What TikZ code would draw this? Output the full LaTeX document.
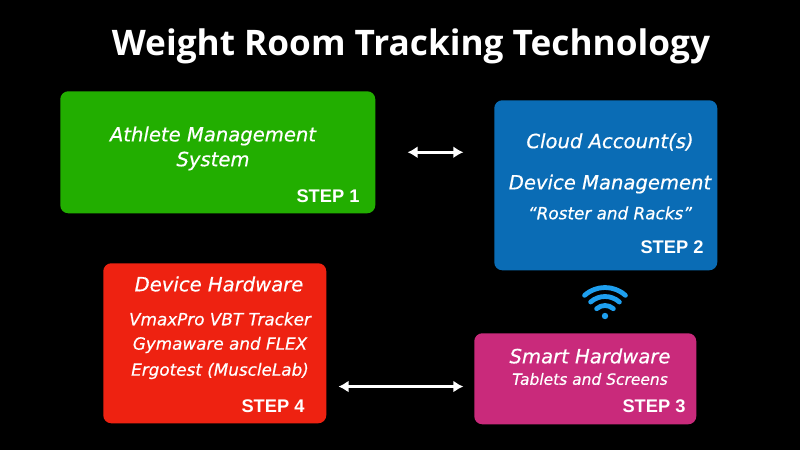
\documentclass[tikz,border=0pt]{standalone}
\usepackage{xcolor}
\usepackage{fontspec}
\setmainfont[ItalicFeatures={FakeBold=0.5}]{DejaVu Sans}
\newfontfamily\titlefont{Open Sans}
\newfontfamily\stepfont{Liberation Sans}
\usetikzlibrary{arrows.meta}
\definecolor{stepgreen}{HTML}{22AE00}
\definecolor{stepblue}{HTML}{0A6CB5}
\definecolor{stepred}{HTML}{EE2211}
\definecolor{stepmagenta}{HTML}{C92A7B}
\definecolor{wifiblue}{HTML}{1E9FEF}
\tikzset{
    stepbox/.style={rounded corners=6pt, inner sep=0pt, anchor=north west},
    headtext/.style={text=white, inner sep=0pt, font=\itshape\fontsize{14.7}{14.7}\selectfont},
    subtext/.style={text=white, inner sep=0pt, font=\itshape\fontsize{12.6}{12.6}\selectfont},
    steptext/.style={text=white, inner sep=0pt, font=\stepfont\bfseries\fontsize{13.7}{13.7}\selectfont},
    biarrow/.style={draw=white, line width=2pt, {Latex[length=7.5pt,width=9pt]}-{Latex[length=7.5pt,width=9pt]}},
    wifiarc/.style={draw=wifiblue, line width=3.6pt, line cap=round}
}
\begin{document}
\begin{tikzpicture}[x=0.75pt, y=-0.75pt]
    \useasboundingbox[fill=black] (0,0) rectangle (800,450);
    \node[text=white, inner sep=0pt, font=\titlefont\bfseries\fontsize{26.4}{26.4}\selectfont] (title) at (411,46) {Weight Room Tracking Technology};

    % boxes
    \node[stepbox, fill=stepgreen, minimum width=236.25pt, minimum height=91.5pt] (ams) at (60,91) {};
    \node[stepbox, fill=stepblue, minimum width=167.25pt, minimum height=127.5pt] (cloud) at (494,100) {};
    \node[stepbox, fill=stepred, minimum width=167.25pt, minimum height=120pt] (device) at (103,263) {};
    \node[stepbox, fill=stepmagenta, minimum width=166.5pt, minimum height=68.25pt] (smart) at (474,333) {};

    % box texts
    \node[headtext] (amsone) at (213,136) {Athlete Management};
    \node[headtext] (amstwo) at (213,161) {System};
    \node[steptext] (stepone) at (328,196) {STEP 1};

    \node[headtext] (cloudone) at (610,142) {Cloud Account(s)};
    \node[headtext] (cloudtwo) at (610,184) {Device Management};
    \node[subtext] (cloudthree) at (610,213) {“Roster and Racks”};
    \node[steptext] (steptwo) at (672,247) {STEP 2};

    \node[headtext] (deviceone) at (219,284) {Device Hardware};
    \node[subtext] (devicetwo) at (220,319) {VmaxPro VBT Tracker};
    \node[subtext] (devicethree) at (220,345) {Gymaware and FLEX};
    \node[subtext] (devicefour) at (220,371) {Ergotest (MuscleLab)};
    \node[steptext] (stepfour) at (273,406) {STEP 4};

    \node[headtext] (smartone) at (590,356) {Smart Hardware};
    \node[subtext, font=\itshape\fontsize{11.6}{11.6}\selectfont] (smarttwo) at (590,379) {Tablets and Screens};
    \node[steptext] (stepthree) at (654,406) {STEP 3};

    % arrows
    \draw[biarrow, shorten <=24pt, shorten >=23pt] (ams.east) -- (ams.east -| cloud.west);
    \draw[biarrow, shorten <=9pt, shorten >=8pt] ([yshift=27.75pt]device.south east) -- ([yshift=28.5pt]smart.south west);

    % wifi
    \coordinate (wifi) at (605,318);
    \fill[wifiblue] (wifi) ++(0,-2) circle (2.4pt);
    \draw[wifiarc] (wifi) ++(228:12.5) arc[start angle=228, end angle=312, radius=12.5];
    \draw[wifiarc] (wifi) ++(228:21.5) arc[start angle=228, end angle=312, radius=21.5];
    \draw[wifiarc] (wifi) ++(228:30.5) arc[start angle=228, end angle=312, radius=30.5];
\end{tikzpicture}
\end{document}
